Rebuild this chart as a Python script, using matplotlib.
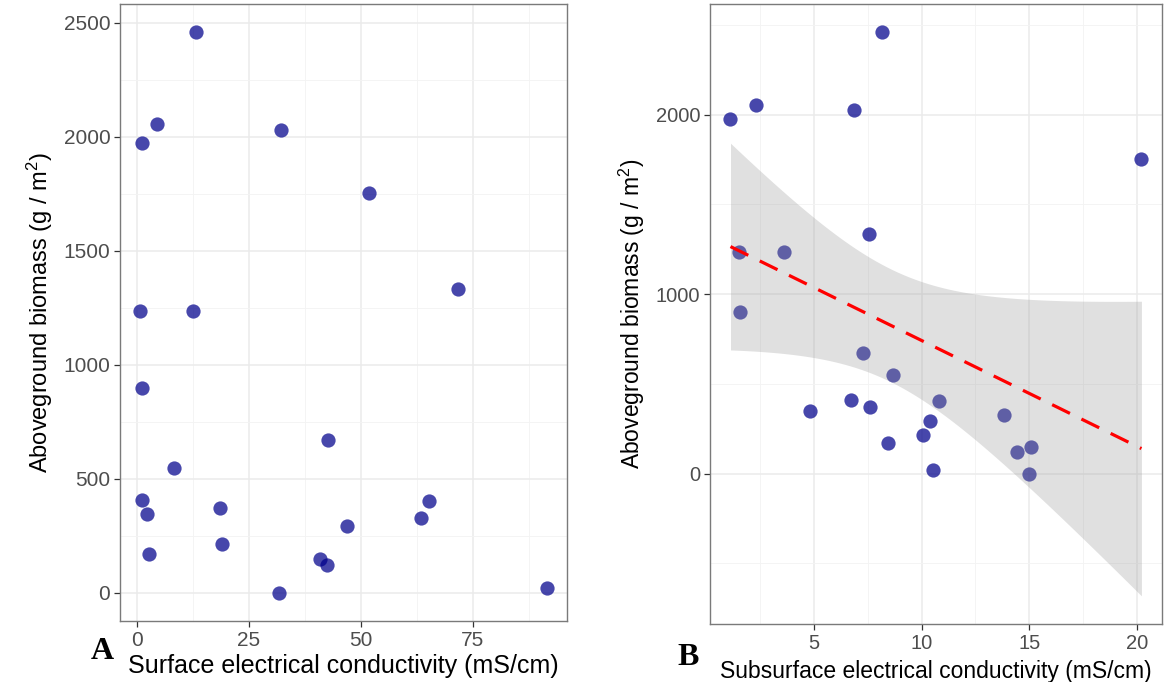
import numpy as np
import matplotlib
matplotlib.use("Agg")
import matplotlib.pyplot as plt
from matplotlib.ticker import MultipleLocator

# aboveground biomass per plot (g/m2) with surface / subsurface EC of the same plots
biomass = [2460, 2057, 1975, 2029, 1235, 1235, 1754, 1333, 900, 550, 408, 348,
           172, 373, 216, 0, 670, 402, 329, 292, 150, 121, 20]
surface_ec = [13.2, 4.5, 1.2, 32.1, 0.75, 12.6, 51.9, 71.6, 1.05, 8.2, 1.2, 2.2,
              2.8, 18.6, 18.9, 31.8, 42.6, 65.3, 63.5, 46.8, 40.8, 42.4, 91.5]
subsurface_ec = [8.14, 2.31, 1.11, 6.87, 1.49, 3.58, 20.22, 7.57, 1.53, 8.69, 6.72, 4.82,
                 8.44, 7.59, 10.07, 14.97, 7.25, 10.82, 13.84, 10.4, 15.08, 14.44, 10.53]

plt.rcParams["font.family"] = ["Liberation Sans", "DejaVu Sans"]
plt.rcParams["mathtext.fontset"] = "custom"
plt.rcParams["mathtext.rm"] = "Liberation Sans"
plt.rcParams["mathtext.it"] = "Liberation Sans"
plt.rcParams["mathtext.bf"] = "Liberation Sans:bold"

PT_COLOR = "#00008B"
YLABEL = "Aboveground biomass (g / m$^{2}$)"


def style_axes(ax, tick_size):
    ax.set_axisbelow(True)
    ax.grid(which="major", color="#EBEBEB", lw=1.1)
    ax.grid(which="minor", color="#F3F3F3", lw=0.6)
    for s in ax.spines.values():
        s.set_color("#7A7A7A")
        s.set_linewidth(1.0)
    ax.tick_params(which="major", length=4, width=0.9, color="#333333",
                   labelcolor="#4D4D4D", labelsize=tick_size, pad=3)
    ax.tick_params(which="minor", length=0)
    ax.margins(0.05)


def lm_band(x, y, n=80, t_crit=2.080):
    # ordinary least squares with a 95% confidence band, as geom_smooth(method="lm")
    x = np.asarray(x, float)
    y = np.asarray(y, float)
    slope, icpt = np.polyfit(x, y, 1)
    resid = y - (icpt + slope * x)
    s = np.sqrt(np.sum(resid ** 2) / (len(x) - 2))
    xs = np.linspace(x.min(), x.max(), n)
    fit = icpt + slope * xs
    se = s * np.sqrt(1 / len(x) + (xs - x.mean()) ** 2 / np.sum((x - x.mean()) ** 2))
    return xs, fit, fit - t_crit * se, fit + t_crit * se


fig = plt.figure(figsize=(11.65, 6.82), dpi=100)
ax1 = fig.add_axes([0.103, 0.0894, 0.3837, 0.9047])
ax2 = fig.add_axes([0.6094, 0.085, 0.388, 0.9091])

# panel A: surface EC
ax1.scatter(surface_ec, biomass, s=105, color=PT_COLOR, alpha=0.72, linewidths=0, zorder=3)
ax1.xaxis.set_major_locator(MultipleLocator(25))
ax1.xaxis.set_minor_locator(MultipleLocator(12.5))
ax1.yaxis.set_major_locator(MultipleLocator(500))
ax1.yaxis.set_minor_locator(MultipleLocator(250))
style_axes(ax1, 15)
ax1.set_xlabel("Surface electrical conductivity (mS/cm)", fontsize=18, labelpad=3)
ax1.set_ylabel(YLABEL, fontsize=17, labelpad=6)

# panel B: subsurface EC with linear fit
ax2.scatter(subsurface_ec, biomass, s=105, color=PT_COLOR, alpha=0.72, linewidths=0, zorder=3)
xs, fit, lo, hi = lm_band(subsurface_ec, biomass)
ax2.fill_between(xs, lo, hi, color="#999999", alpha=0.3, linewidth=0, zorder=4)
ax2.plot(xs, fit, color="red", lw=2.3, dashes=(6.2, 4.0), zorder=5)
ax2.xaxis.set_major_locator(MultipleLocator(5))
ax2.xaxis.set_minor_locator(MultipleLocator(2.5))
ax2.yaxis.set_major_locator(MultipleLocator(1000))
ax2.yaxis.set_minor_locator(MultipleLocator(500))
style_axes(ax2, 14.5)
ax2.set_xlabel("Subsurface electrical conductivity (mS/cm)", fontsize=16.5, labelpad=5)
ax2.set_ylabel(YLABEL, fontsize=16.5, labelpad=6)

fig.text(0.0875, 0.034, "A", family=["Liberation Serif", "DejaVu Serif"],
         fontweight="bold", fontsize=23, ha="center", va="baseline")
fig.text(0.5905, 0.025, "B", family=["Liberation Serif", "DejaVu Serif"],
         fontweight="bold", fontsize=23, ha="center", va="baseline")

fig.savefig("out.png", dpi=100)
